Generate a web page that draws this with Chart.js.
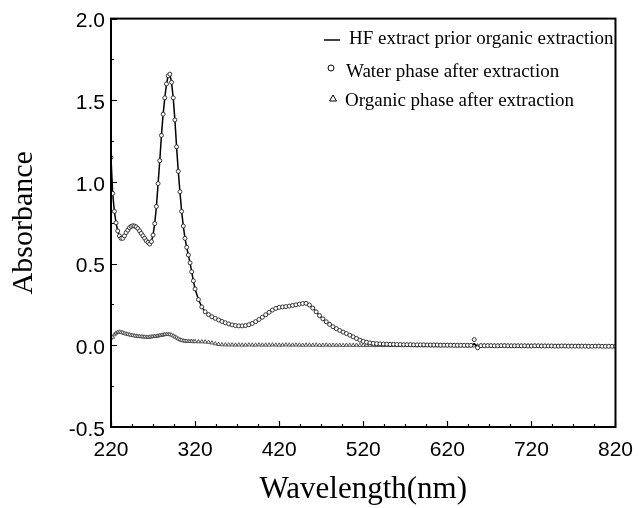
<!DOCTYPE html>
<html><head><meta charset="utf-8">
<script src="https://cdn.jsdelivr.net/npm/chart.js@4"></script>
<style>html,body{margin:0;padding:0;background:#fff;overflow:hidden;}</style>
</head><body>
<canvas id="c" width="644" height="508"></canvas>
<script>
const wavelengths = [
220,222,224,226,228,230,232,234,236,238,240,242,244,246,248,250,252,254,256,258,
260,262,264,266,268,270,272,274,276,278,280,282,284,286,288,290,292,294,296,298,
300,302,304,306,308,310,312,314,316,318,320,
324,328,332,336,340,344,348,352,356,360,364,368,372,376,380,384,388,392,396,400,
404,408,412,416,420,424,428,432,436,440,444,448,452,456,460,464,468,472,476,480,
484,488,492,496,500,504,508,512,516,520,
524,528,532,536,540,544,548,552,556,560,
564,568,572,576,580,584,588,592,596,600,
604,608,612,616,620,624,628,632,636,640,
644,648,652,656,660,664,668,672,676,680,
684,688,692,696,700,704,708,712,716,720,
724,728,732,736,740,744,748,752,756,760,
764,768,772,776,780,784,788,792,796,800,
804,808,812,816,820
];
const hfExtract = [
1.15,0.93,0.82,0.75,0.70,0.67,0.655,0.655,0.67,0.69,0.705,0.72,0.728,0.732,0.73,0.725,0.715,0.70,0.685,0.67,
0.655,0.64,0.63,0.62,0.635,0.675,0.745,0.85,0.99,1.13,1.285,1.415,1.515,1.60,1.65,1.66,1.61,1.515,1.38,1.215,
1.065,0.94,0.82,0.73,0.655,0.60,0.553,0.505,0.45,0.395,0.345,
0.28,0.235,0.205,0.188,0.175,0.165,0.155,0.146,0.138,0.131,0.125,0.121,0.119,0.119,0.121,0.126,0.134,0.145,0.158,0.172,
0.187,0.202,0.216,0.226,0.232,0.235,0.237,0.24,0.244,0.248,0.252,0.256,0.257,0.247,0.228,0.205,0.182,0.162,0.144,0.128,
0.114,0.102,0.091,0.081,0.072,0.062,0.052,0.042,0.032,0.024,
0.019,0.015,0.012,0.010,0.009,0.008,0.007,0.006,0.006,0.005,
0.005,0.004,0.004,0.004,0.003,0.003,0.003,0.003,0.002,0.002,
0.002,0.002,0.001,0.001,0.001,0.001,0.000,0.000,0.000,0.000,
0.000,0.000,0.010,-0.008,-0.002,-0.002,-0.002,-0.002,-0.003,-0.003,
-0.002,-0.002,-0.003,-0.003,-0.003,-0.003,-0.003,-0.003,-0.004,-0.004,
-0.003,-0.003,-0.004,-0.004,-0.004,-0.004,-0.005,-0.005,-0.004,-0.004,
-0.005,-0.005,-0.005,-0.005,-0.005,-0.005,-0.006,-0.006,-0.005,-0.005,
-0.006,-0.006,-0.006,-0.006,-0.006
];
const waterPhase = [
1.15,0.93,0.82,0.75,0.70,0.67,0.655,0.655,0.67,0.69,0.705,0.72,0.728,0.732,0.73,0.725,0.715,0.70,0.685,0.67,
0.655,0.64,0.63,0.62,0.635,0.675,0.745,0.85,0.99,1.13,1.285,1.415,1.515,1.60,1.65,1.66,1.61,1.515,1.38,1.215,
1.065,0.94,0.82,0.73,0.655,0.60,0.553,0.505,0.45,0.395,0.345,
0.28,0.235,0.205,0.188,0.175,0.165,0.155,0.146,0.138,0.131,0.125,0.121,0.119,0.119,0.121,0.126,0.134,0.145,0.158,0.172,
0.187,0.202,0.216,0.226,0.232,0.235,0.237,0.24,0.244,0.248,0.252,0.256,0.257,0.247,0.228,0.205,0.182,0.162,0.144,0.128,
0.114,0.102,0.091,0.081,0.072,0.062,0.052,0.042,0.032,0.024,
0.019,0.015,0.012,0.010,0.009,0.008,0.007,0.006,0.006,0.005,
0.005,0.004,0.004,0.004,0.003,0.003,0.003,0.003,0.002,0.002,
0.002,0.002,0.001,0.001,0.001,0.001,0.000,0.000,0.000,0.000,
0.000,0.000,0.035,-0.015,-0.002,-0.002,-0.002,-0.002,-0.003,-0.003,
-0.002,-0.002,-0.003,-0.003,-0.003,-0.003,-0.003,-0.003,-0.004,-0.004,
-0.003,-0.003,-0.004,-0.004,-0.004,-0.004,-0.005,-0.005,-0.004,-0.004,
-0.005,-0.005,-0.005,-0.005,-0.005,-0.005,-0.006,-0.006,-0.005,-0.005,
-0.006,-0.006,-0.006,-0.006,-0.006
];
const organicPhase = [
0.045,0.05,0.065,0.075,0.08,0.082,0.08,0.077,0.073,0.07,0.067,0.065,0.062,0.06,0.058,0.057,0.055,0.054,0.053,0.052,
0.051,0.05,0.05,0.051,0.052,0.054,0.055,0.056,0.058,0.06,0.062,0.064,0.066,0.067,0.067,0.066,0.063,0.058,0.052,0.046,
0.04,0.035,0.031,0.028,0.026,0.025,0.024,0.024,0.024,0.023,0.023,
0.022,0.022,0.021,0.019,0.015,0.010,0.006,0.004,0.003,0.003,0.003,0.002,0.003,0.002,0.002,0.003,0.002,0.002,0.003,0.002,
0.002,0.002,0.003,0.002,0.002,0.002,0.003,0.002,0.002,0.002,0.002,0.001,0.002,0.002,0.001,0.002,0.001,0.001,0.002,0.001,
0.001,0.001,0.001,0.000,0.001,0.001,0.000,0.001,0.000,0.000,
0.000,0.000,0.000,-0.001,0.000,-0.001,0.000,-0.001,-0.001,-0.001,
-0.001,-0.001,-0.001,-0.001,-0.001,-0.002,-0.001,-0.002,-0.001,-0.002,
-0.002,-0.002,-0.002,-0.002,-0.002,-0.002,-0.002,-0.003,-0.002,-0.002,
-0.003,-0.002,-0.003,-0.003,-0.003,-0.003,-0.003,-0.003,-0.003,-0.003,
-0.004,-0.003,-0.003,-0.004,-0.004,-0.004,-0.004,-0.004,-0.004,-0.004,
-0.004,-0.005,-0.004,-0.004,-0.005,-0.005,-0.005,-0.005,-0.005,-0.005,
-0.005,-0.005,-0.006,-0.005,-0.005,-0.006,-0.005,-0.006,-0.006,-0.006,
-0.006,-0.006,-0.006,-0.006,-0.006
];
const xTicks = [220,320,420,520,620,720,820];
const yTicks = [-0.5,0.0,0.5,1.0,1.5,2.0];
const seriesNames = ['HF extract prior organic extraction','Water phase after extraction','Organic phase after extraction'];
const axisTitles = {x:'Wavelength(nm)', y:'Absorbance'};

const toPts = arr => wavelengths.map((w,i)=>({x:w,y:arr[i]}));

const framePlugin = {
  id:'frame',
  afterDatasetsDraw(chart){
    const {ctx, chartArea:a, scales:{x,y}} = chart;
    ctx.save();
    ctx.strokeStyle='#000';
    ctx.lineWidth=1.2;
    ctx.beginPath();
    for(let v=-0.5; v<=2.0001; v+=0.25){
      const py=Math.round(y.getPixelForValue(v))+0.5;
      const major = Math.abs(v*2-Math.round(v*2))<1e-6;
      const len = major?6:3;
      ctx.moveTo(a.left,py); ctx.lineTo(a.left+len,py);
    }
    for(let v=220; v<=820; v+=25){
      const px=Math.round(x.getPixelForValue(v))+0.5;
      const major = (v-220)%100===0;
      const len = major?6:3;
      ctx.moveTo(px,a.bottom); ctx.lineTo(px,a.bottom-len);
    }
    ctx.stroke();
    ctx.lineWidth=2;
    ctx.strokeRect(a.left,a.top,a.right-a.left,a.bottom-a.top);
    ctx.fillStyle='#000';
    ctx.font='19px "Liberation Serif"';
    ctx.textBaseline='middle';
    ctx.textAlign='left';
    ctx.lineWidth=1.5;
    ctx.beginPath(); ctx.moveTo(324,40); ctx.lineTo(340,40); ctx.stroke();
    ctx.fillText(seriesNames[0],349,39);
    ctx.lineWidth=1;
    ctx.beginPath(); ctx.arc(331,68,3,0,Math.PI*2); ctx.stroke();
    ctx.fillText(seriesNames[1],346,72);
    ctx.beginPath(); ctx.moveTo(333,95); ctx.lineTo(336.5,101); ctx.lineTo(329.5,101); ctx.closePath(); ctx.stroke();
    ctx.fillText(seriesNames[2],345,101);
    ctx.restore();
  }
};

new Chart(document.getElementById('c'), {
  type:'scatter',
  data:{datasets:[
    {label:seriesNames[1], data:toPts(waterPhase), showLine:false, pointStyle:'circle', pointRadius:2, pointBorderWidth:0.9,
     pointBorderColor:'#222', pointBackgroundColor:'#fff'},
    {label:seriesNames[0], data:toPts(hfExtract), showLine:true, pointRadius:0, borderColor:'#000', borderWidth:1.5, tension:0},
    {label:seriesNames[2], data:toPts(organicPhase), showLine:false, pointStyle:'triangle', pointRadius:2.2, pointBorderWidth:0.9,
     pointBorderColor:'#444', pointBackgroundColor:'#fff'}
  ]},
  options:{
    responsive:false, animation:false, devicePixelRatio:1,
    layout:{padding:{left:0,right:21,top:14,bottom:0}},
    plugins:{legend:{display:false}, tooltip:{enabled:false}},
    scales:{
      x:{type:'linear', min:220, max:820,
         afterBuildTicks(s){ s.ticks = xTicks.map(v=>({value:v})); },
         afterFit(s){ s.height=81; },
         grid:{display:false, drawTicks:false}, border:{display:false},
         ticks:{color:'#000', font:{family:'"Liberation Sans"', size:21}, padding:11, maxRotation:0, autoSkip:false,
                callback:v=>String(v)},
         title:{display:true, text:axisTitles.x, color:'#000', font:{family:'"Liberation Serif"', size:31}, padding:{top:0,bottom:0}}
      },
      y:{type:'linear', min:-0.5, max:2.0,
         afterBuildTicks(s){ s.ticks = yTicks.map(v=>({value:v})); },
         afterFit(s){ s.width=111; },
         grid:{display:false, drawTicks:false}, border:{display:false},
         ticks:{color:'#000', font:{family:'"Liberation Sans"', size:21}, padding:6, labelOffset:3, autoSkip:false,
                callback:v=>Number(v).toFixed(1)},
         title:{display:true, text:axisTitles.y, color:'#000', font:{family:'"Liberation Serif"', size:30}, padding:{top:6,bottom:0}}
      }
    }
  },
  plugins:[framePlugin]
});
</script>
</body></html>
